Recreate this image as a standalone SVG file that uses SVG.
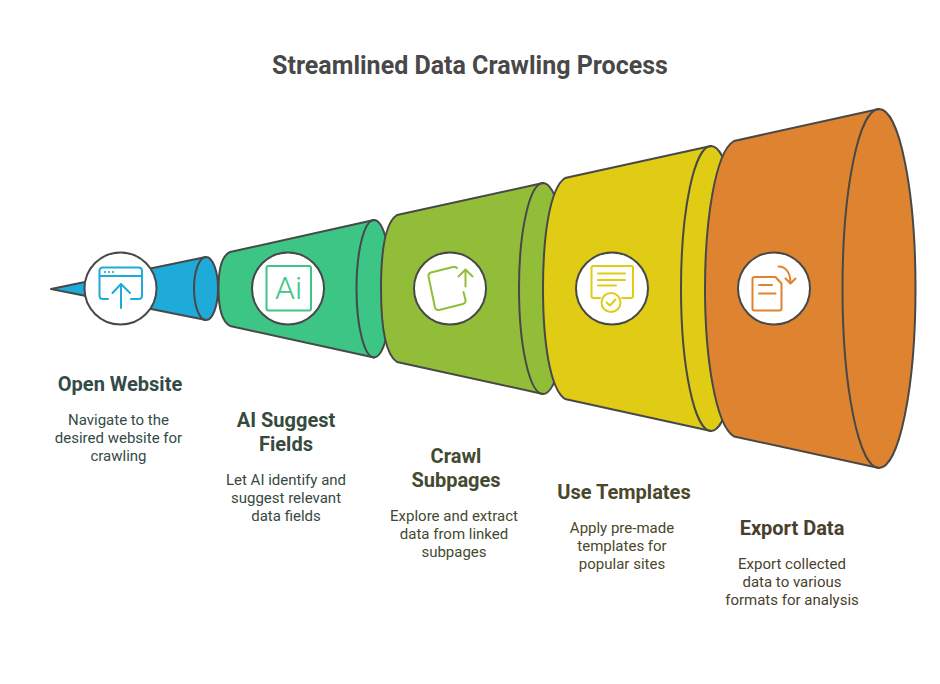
<svg xmlns="http://www.w3.org/2000/svg" width="940" height="684" viewBox="0 0 940 684">
<style>
text{font-family:Roboto,"Liberation Sans",sans-serif;text-anchor:middle}
.t{font-size:25px;font-weight:700;fill:#484848}
.h{font-size:20px;font-weight:700}
.d{font-size:15px}
.s{stroke:#484848;stroke-width:2;stroke-linejoin:round;stroke-linecap:round}
.e{fill:none}
.c{fill:#fff;stroke:#484848;stroke-width:2}
.i{fill:none;stroke-width:2;stroke-linecap:round;stroke-linejoin:round}
</style>
<rect width="940" height="684" fill="#fff"/>
<text class="t" x="470" y="74">Streamlined Data Crawling Process</text>
<g id="cones">
<g id="cone-1">
<path class="s" fill="#1eabda" d="M51 289L206 257A12 31.500 0 0 1 206 320Z"/>
<path class="s e" d="M206 257A12 31.500 0 0 0 206 320"/>
</g>
<g id="cone-2">
<path class="s" fill="#3dc585" d="M218.500 288.500C218.500 270 221 256 230 252L374 220A17.500 68.700 0 0 1 374 357.400L230 326C221 321 218.500 307 218.500 288.500Z"/>
<path class="s e" d="M374 220A17.500 68.700 0 0 0 374 357.400"/>
</g>
<g id="cone-3">
<path class="s" fill="#92bd39" d="M381 288.500C381 250 386 222 397 215L543 183A24 105.500 0 0 1 543 394L397 362C386 355 381 327 381 288.500Z"/>
<path class="s e" d="M543 183A24 105.500 0 0 0 543 394"/>
</g>
<g id="cone-4">
<path class="s" fill="#e0cb15" d="M543 288.500C543 235 550 188 565 178L711 146A30 142.500 0 0 1 711 431L565 399C550 389 543 342 543 288.500Z"/>
<path class="s e" d="M711 146A30 142.500 0 0 0 711 431"/>
</g>
<g id="cone-5">
<path class="s" fill="#de8431" d="M705 288.500C705 222 715 152 734 141L879 109A36.500 179.500 0 0 1 879 468L734 436.500C715 425 705 355 705 288.500Z"/>
<path class="s e" d="M879 109A36.500 179.500 0 0 0 879 468"/>
</g>
</g>
<g id="node-1">
<circle class="c" cx="120.500" cy="288.500" r="36"/>
<g class="i" stroke="#1eabda">
<path d="M108 299H103Q99.500 299 99.500 295.500V271Q99.500 267.500 103 267.500H138.500Q142 267.500 142 271V295.500Q142 299 138.500 299H131"/>
<path d="M99.500 276H142M121 284V308M112.500 293L121 284L130 293"/>
<path d="M105 272H105.200M109 272H109.200M113 272H113.200"/>
</g>
</g>
<g id="node-2">
<circle class="c" cx="288" cy="288.500" r="36"/>
<rect class="i" x="266.500" y="266" width="44.500" height="44.500" rx="2" stroke="#3dc585"/>
<text x="288.500" y="299" font-size="32" font-weight="300" fill="#3dc585">Ai</text>
</g>
<g id="node-3">
<circle class="c" cx="450" cy="288.500" r="36"/>
<g class="i" stroke="#92bd39">
<path d="M457 268L456 267.500Q455 266.500 453 267L431 272.500Q428 273.500 428.500 276.500L435 307.500Q436 310.500 439 310L463 304Q466 303 465.500 300L463.500 292"/>
<path d="M465.500 286.500V270M458.500 276.500L465.500 269.500L472.500 276.500"/>
</g>
</g>
<g id="node-4">
<circle class="c" cx="612" cy="288.500" r="36"/>
<g class="i" stroke="#e0cb15">
<path d="M600 298H593.500Q591.500 298 591.500 296V268Q591.500 266 593.500 266H631Q633 266 633 268V296Q633 298 631 298H622"/>
<path d="M598 273.500H625M598 280H625M598 285.500H616"/>
<circle cx="611" cy="302.500" r="9.500"/>
<path d="M606.500 302.500L610 305.500L615.500 299.500"/>
</g>
</g>
<g id="node-5">
<circle class="c" cx="774" cy="288.500" r="36"/>
<g class="i" stroke="#de8431">
<path d="M754.500 277H775.500L781.500 283.500V308.500Q781.500 310.500 779.500 310.500H754.500Q752.500 310.500 752.500 308.500V279Q752.500 277 754.500 277Z"/>
<path d="M759 285H772M759 293.500H775.500"/>
<path d="M778.500 266.500C786 266.500 790.500 273 790.500 283M785.500 278.500L790.500 283.500L795.500 278.500"/>
</g>
</g>
<g id="label-1" fill="#344a47">
<text class="h" x="120" y="391">Open Website</text>
<text class="d" x="118.500" y="425">Navigate to the</text>
<text class="d" x="118.500" y="443">desired website for</text>
<text class="d" x="118.500" y="461">crawling</text>
</g>
<g id="label-2" fill="#364a3e">
<text class="h" x="286" y="427">AI Suggest</text>
<text class="h" x="286" y="451">Fields</text>
<text class="d" x="286" y="485">Let AI identify and</text>
<text class="d" x="286" y="503">suggest relevant</text>
<text class="d" x="286" y="521">data fields</text>
</g>
<g id="label-3" fill="#434a2f">
<text class="h" x="456" y="463">Crawl</text>
<text class="h" x="456" y="487">Subpages</text>
<text class="d" x="454" y="521">Explore and extract</text>
<text class="d" x="454" y="539">data from linked</text>
<text class="d" x="454" y="557">subpages</text>
</g>
<g id="label-4" fill="#4a472a">
<text class="h" x="624" y="499">Use Templates</text>
<text class="d" x="622" y="533">Apply pre-made</text>
<text class="d" x="622" y="551">templates for</text>
<text class="d" x="622" y="569">popular sites</text>
</g>
<g id="label-5" fill="#4a3f2c">
<text class="h" x="792" y="535">Export Data</text>
<text class="d" x="792" y="569">Export collected</text>
<text class="d" x="792" y="587">data to various</text>
<text class="d" x="792" y="605">formats for analysis</text>
</g>
</svg>
